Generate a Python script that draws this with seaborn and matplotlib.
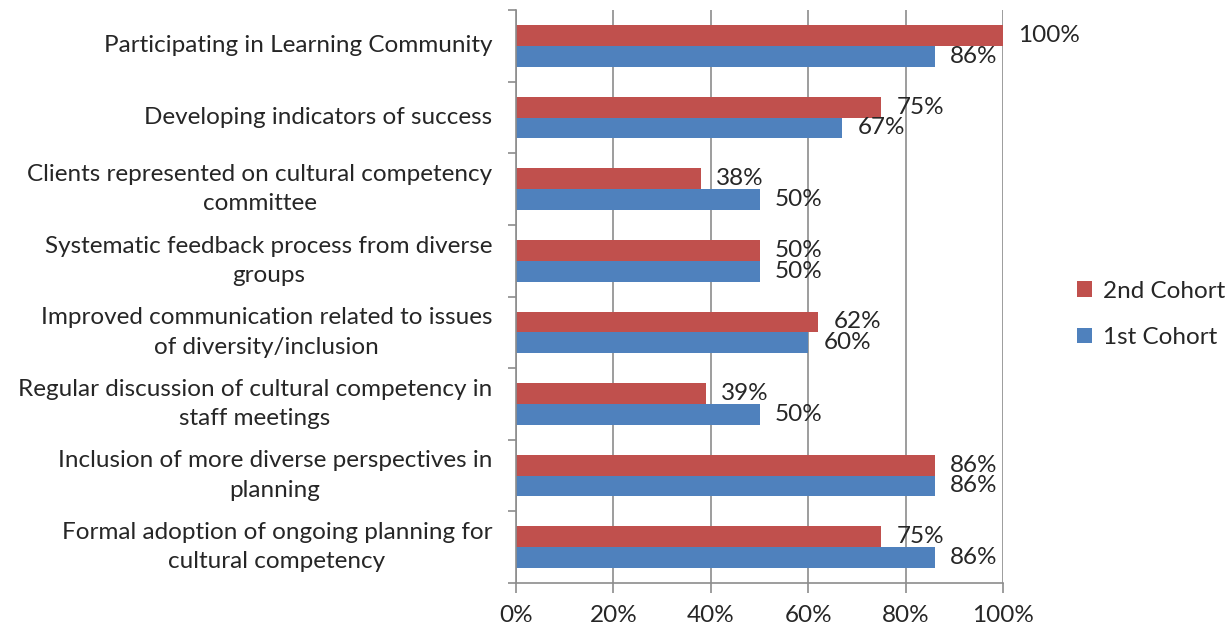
import pandas as pd
import seaborn as sns
import matplotlib.pyplot as plt
from matplotlib.ticker import FixedLocator, PercentFormatter

categories = [
    "Participating in Learning Community",
    "Developing indicators of success",
    "Clients represented on cultural competency\ncommittee",
    "Systematic feedback process from diverse\ngroups",
    "Improved communication related to issues\nof diversity/inclusion",
    "Regular discussion of cultural competency in\nstaff meetings",
    "Inclusion of more diverse perspectives in\nplanning",
    "Formal adoption of ongoing planning for\ncultural competency",
]
cohort2 = [100, 75, 38, 50, 62, 39, 86, 75]
cohort1 = [86, 67, 50, 50, 60, 50, 86, 86]
series = ["2nd Cohort", "1st Cohort"]

df = pd.DataFrame({
    "item": categories * 2,
    "value": cohort2 + cohort1,
    "cohort": [series[0]] * len(categories) + [series[1]] * len(categories),
})

sns.set_style("white")
plt.rcParams["font.family"] = ["Lato", "DejaVu Sans"]
FS = 17.5

fig = plt.figure(figsize=(12.31, 6.33), dpi=100)
ax = fig.add_axes([0.419, 0.079, 0.396, 0.905])

sns.barplot(data=df, y="item", x="value", hue="cohort", hue_order=series,
            order=categories, orient="h", width=0.58, gap=0,
            palette=["#C0504D", "#4F81BD"], edgecolor="none", saturation=1,
            ax=ax)

for cont in ax.containers:
    ax.bar_label(cont, fmt="%d%%", padding=11, fontsize=FS)

ax.set_xlim(0, 100)
ax.set_ylim(len(categories) - 0.5, -0.5)
ax.xaxis.set_major_locator(FixedLocator([0, 20, 40, 60, 80, 100]))
ax.xaxis.set_major_formatter(PercentFormatter(decimals=0))
ax.grid(axis="x", color="#8c8c8c", linewidth=1.2)
ax.set_axisbelow(True)
ax.set_xlabel("")
ax.set_ylabel("")

# category boundary tick marks like the original
ax.yaxis.set_minor_locator(FixedLocator([i - 0.5 for i in range(len(categories) + 1)]))
ax.tick_params(axis="y", which="major", length=0, pad=17, labelsize=FS)
ax.tick_params(axis="y", which="minor", length=6, color="#8c8c8c", width=1.2, left=True)
ax.tick_params(axis="x", which="major", length=7, color="#8c8c8c", width=1.2,
               bottom=True, labelsize=FS, pad=9)
for lbl in ax.get_yticklabels():
    lbl.set_multialignment("center")
    lbl.set_verticalalignment("center")
    lbl.set_linespacing(1.5)

for side in ["top", "right"]:
    ax.spines[side].set_visible(False)
for side in ["left", "bottom"]:
    ax.spines[side].set_color("#8c8c8c")
    ax.spines[side].set_linewidth(1.2)

leg = ax.legend(loc="center left", bbox_to_anchor=(1.152, 0.469), frameon=False,
                fontsize=FS, handlelength=0.6, handleheight=0.6,
                handletextpad=0.45, labelspacing=1.05, borderpad=0,
                borderaxespad=0)

fig.savefig("out.png", dpi=100)
